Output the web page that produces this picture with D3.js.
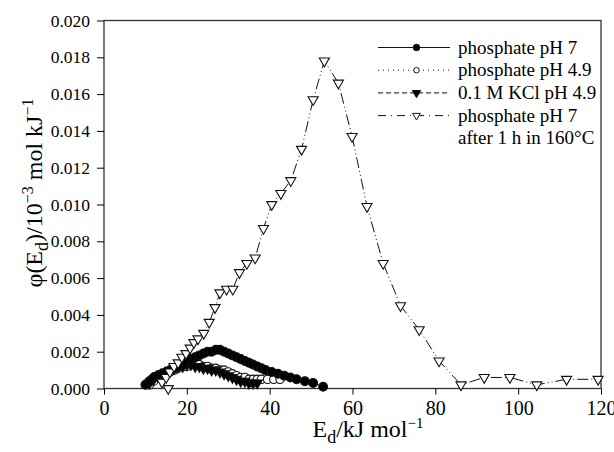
<!DOCTYPE html>
<meta charset="utf-8">
<style>
body { margin: 0; background: white; }
svg { font-family: "Liberation Serif", "Times New Roman", serif; }
svg text { font-family: "Liberation Serif", "Times New Roman", serif !important; }
.axis line { stroke: #000; }
.axis path { display: none; }
.legend text { font-size: 19px; }
</style>
<body>
<script src="https://d3js.org/d3.v7.min.js"></script>
<script>
// phosphate pH 7 (filled circles)
var phos7E = [10.0, 11, 12, 13, 14, 15, 16, 17, 18, 19, 20, 21, 22, 23, 24, 25, 26, 27, 28, 29, 30, 31, 32, 33, 34, 35, 36, 37, 38, 39, 40.5, 42, 43.5, 45, 46.5, 48.5, 50.5, 52.9];
var phos7Y = [0.0002, 0.0004, 0.0006, 0.0007, 0.0008, 0.0009, 0.0010, 0.0011, 0.0012, 0.0013, 0.0015, 0.0016, 0.0017, 0.0018, 0.0019, 0.0020, 0.0020, 0.0021, 0.0021, 0.0020, 0.0019, 0.0018, 0.0017, 0.0016, 0.0015, 0.0014, 0.0013, 0.0012, 0.0011, 0.0010, 0.0009, 0.0008, 0.0007, 0.0006, 0.0005, 0.0004, 0.0003, 0.0001];

// phosphate pH 4.9 (open circles)
var phos49E = [11, 12, 13, 14, 15, 16, 17, 18, 19, 20, 21, 22, 23, 24, 25, 26, 27, 28, 29, 30, 31, 32, 33, 34, 35, 36, 37, 38, 39.5, 41, 42.5];
var phos49Y = [0.0002, 0.0004, 0.0006, 0.0007, 0.0008, 0.0009, 0.0010, 0.0011, 0.0012, 0.0012, 0.0013, 0.0013, 0.0013, 0.0012, 0.0012, 0.0011, 0.0011, 0.0010, 0.0010, 0.0009, 0.0008, 0.0007, 0.0006, 0.0006, 0.0005, 0.0005, 0.0005, 0.0005, 0.0005, 0.0005, 0.0005];

// 0.1 M KCl pH 4.9 (filled down triangles)
var kclE = [11, 12, 13, 14, 15, 16, 17, 18, 19, 20, 21, 22, 23, 24, 25, 26, 27, 28, 29, 30, 31, 32, 33, 34, 35, 36, 37];
var kclY = [0.0003, 0.0005, 0.0007, 0.0008, 0.0009, 0.0010, 0.0011, 0.0012, 0.0012, 0.0013, 0.0013, 0.0012, 0.0012, 0.0011, 0.0011, 0.0010, 0.0010, 0.0009, 0.0008, 0.0007, 0.0006, 0.0005, 0.0004, 0.0004, 0.0003, 0.0003, 0.0003];

// phosphate pH 7 after 1 h in 160 C (open down triangles)
var heatE = [15.5, 14.0, 15.0, 15.9, 16.9, 17.9, 18.8, 19.8, 20.8, 21.7, 22.7, 24.1, 25.4, 26.8, 28.0, 29.6, 31.1, 32.7, 34.5, 36.5, 38.5, 40.5, 42.7, 45.1, 47.7, 50.5, 53.2, 56.6, 59.9, 63.5, 67.4, 71.6, 76.1, 80.9, 86.2, 91.8, 98.0, 104.5, 111.7, 119.3];
var heatY = [0.0000, 0.00035, 0.0006, 0.0009, 0.0012, 0.0014, 0.0017, 0.0019, 0.0022, 0.0025, 0.0027, 0.0030, 0.0036, 0.0044, 0.0052, 0.0054, 0.0054, 0.0063, 0.0068, 0.0071, 0.0087, 0.0100, 0.0106, 0.0113, 0.0130, 0.0157, 0.0178, 0.0166, 0.0137, 0.0099, 0.0068, 0.0045, 0.0032, 0.0015, 0.0002, 0.0006, 0.0006, 0.0002, 0.0005, 0.0005];

var xTicks = [0, 20, 40, 60, 80, 100, 120];
var yTicks = [0, 0.002, 0.004, 0.006, 0.008, 0.010, 0.012, 0.014, 0.016, 0.018, 0.020];

var legendLabels = ["phosphate pH 7", "phosphate pH 4.9", "0.1 M KCl pH 4.9", "phosphate pH 7", "after 1 h in 160°C"];

var W = 614, H = 452;
var pLeft = 104, pRight = 601, pTop = 20.5, pBottom = 388.5;
var serif = '"Liberation Serif", "Times New Roman", serif';

var x = d3.scaleLinear().domain([0, 120]).range([pLeft, pRight]);
var y = d3.scaleLinear().domain([0, 0.02]).range([pBottom, pTop]);

var svg = d3.select("body").append("svg")
    .attr("width", W)
    .attr("height", H);

// frame
svg.append("rect")
    .attr("x", pLeft).attr("y", pTop)
    .attr("width", pRight - pLeft).attr("height", pBottom - pTop)
    .attr("fill", "none").attr("stroke", "#333").attr("stroke-width", 1.3);

// axes
svg.append("g")
    .attr("class", "x axis")
    .attr("transform", "translate(0," + pBottom + ")")
    .call(d3.axisBottom(x).tickValues(xTicks).tickSize(6).tickPadding(6).tickSizeOuter(0))
    .selectAll("text")
    .attr("fill", "#000")
    .style("font-family", serif)
    .style("font-size", "20px");

svg.append("g")
    .attr("class", "y axis")
    .attr("transform", "translate(" + pLeft + ",0)")
    .call(d3.axisLeft(y).tickValues(yTicks).tickFormat(d3.format(".3f")).tickSize(7).tickPadding(7).tickSizeOuter(0))
    .selectAll("text")
    .attr("fill", "#000")
    .style("font-family", serif)
    .style("font-size", "17.5px");

// axis titles
var xt = svg.append("text")
    .attr("x", 368).attr("y", 437)
    .attr("text-anchor", "middle")
    .style("font-size", "24px");
xt.append("tspan").text("E");
xt.append("tspan").attr("dy", 6).style("font-size", "18px").text("d");
xt.append("tspan").attr("dy", -6).text("/kJ mol");
xt.append("tspan").attr("dy", -9).style("font-size", "15px").text("−1");

var yt = svg.append("text")
    .attr("transform", "translate(42,193) rotate(-90)")
    .attr("text-anchor", "middle")
    .style("font-size", "24px");
yt.append("tspan").text("φ(E");
yt.append("tspan").attr("dy", 6).style("font-size", "18px").text("d");
yt.append("tspan").attr("dy", -6).text(")/10");
yt.append("tspan").attr("dy", -9).style("font-size", "16px").text("−3");
yt.append("tspan").attr("dy", 9).text(" mol kJ");
yt.append("tspan").attr("dy", -9).style("font-size", "16px").text("−1");

function pts(xs, ys) {
    return xs.map(function(d, i) { return [d, ys[i]]; });
}

var line = d3.line()
    .x(function(d) { return x(d[0]); })
    .y(function(d) { return y(d[1]); });

var circle = d3.symbol().type(d3.symbolCircle);
var tri = d3.symbol().type(d3.symbolTriangle);

var series = [
    { data: pts(phos49E, phos49Y), dash: "1,3", sym: circle, size: 55, fill: "white", rot: 0 },
    { data: pts(kclE, kclY), dash: "5,3", sym: tri, size: 45, fill: "black", rot: 180 },
    { data: pts(phos7E, phos7Y), dash: null, sym: circle, size: 62, fill: "black", rot: 0 },
    { data: pts(heatE, heatY), dash: "11,3,1,3,1,3", sym: tri, size: 44, fill: "white", rot: 180 }
];

series.forEach(function(s) {
    svg.append("path")
        .datum(s.data)
        .attr("d", line)
        .attr("fill", "none")
        .attr("stroke", "#111")
        .attr("stroke-width", 1)
        .attr("stroke-dasharray", s.dash);

    svg.append("g").selectAll("path")
        .data(s.data)
        .enter().append("path")
        .attr("d", s.sym.size(s.size))
        .attr("transform", function(d) { return "translate(" + x(d[0]) + "," + y(d[1]) + ") rotate(" + s.rot + ")"; })
        .attr("fill", s.fill)
        .attr("stroke", "#111")
        .attr("stroke-width", 1.1);
});

// legend
var leg = svg.append("g").attr("class", "legend");
var legRows = [
    { dash: null, sym: circle, size: 34, fill: "black", rot: 0 },
    { dash: "1,4", sym: circle, size: 24, fill: "white", rot: 0 },
    { dash: "5,3", sym: tri, size: 30, fill: "black", rot: 180 },
    { dash: "8,5,1,5", sym: tri, size: 26, fill: "white", rot: 180 }
];
var legY0 = 47.5, legStep = 22.7;
legRows.forEach(function(r, i) {
    var yy = legY0 + i * legStep;
    leg.append("line")
        .attr("x1", 378).attr("x2", 450)
        .attr("y1", yy).attr("y2", yy)
        .attr("stroke", "#111")
        .attr("stroke-dasharray", r.dash);
    leg.append("path")
        .attr("d", r.sym.size(r.size))
        .attr("transform", "translate(416.5," + yy + ") rotate(" + r.rot + ")")
        .attr("fill", r.fill)
        .attr("stroke", "#111");
});
legendLabels.forEach(function(t, i) {
    leg.append("text")
        .attr("x", 458)
        .attr("y", legY0 + i * legStep + 6)
        .text(t);
});
</script>
</body>
